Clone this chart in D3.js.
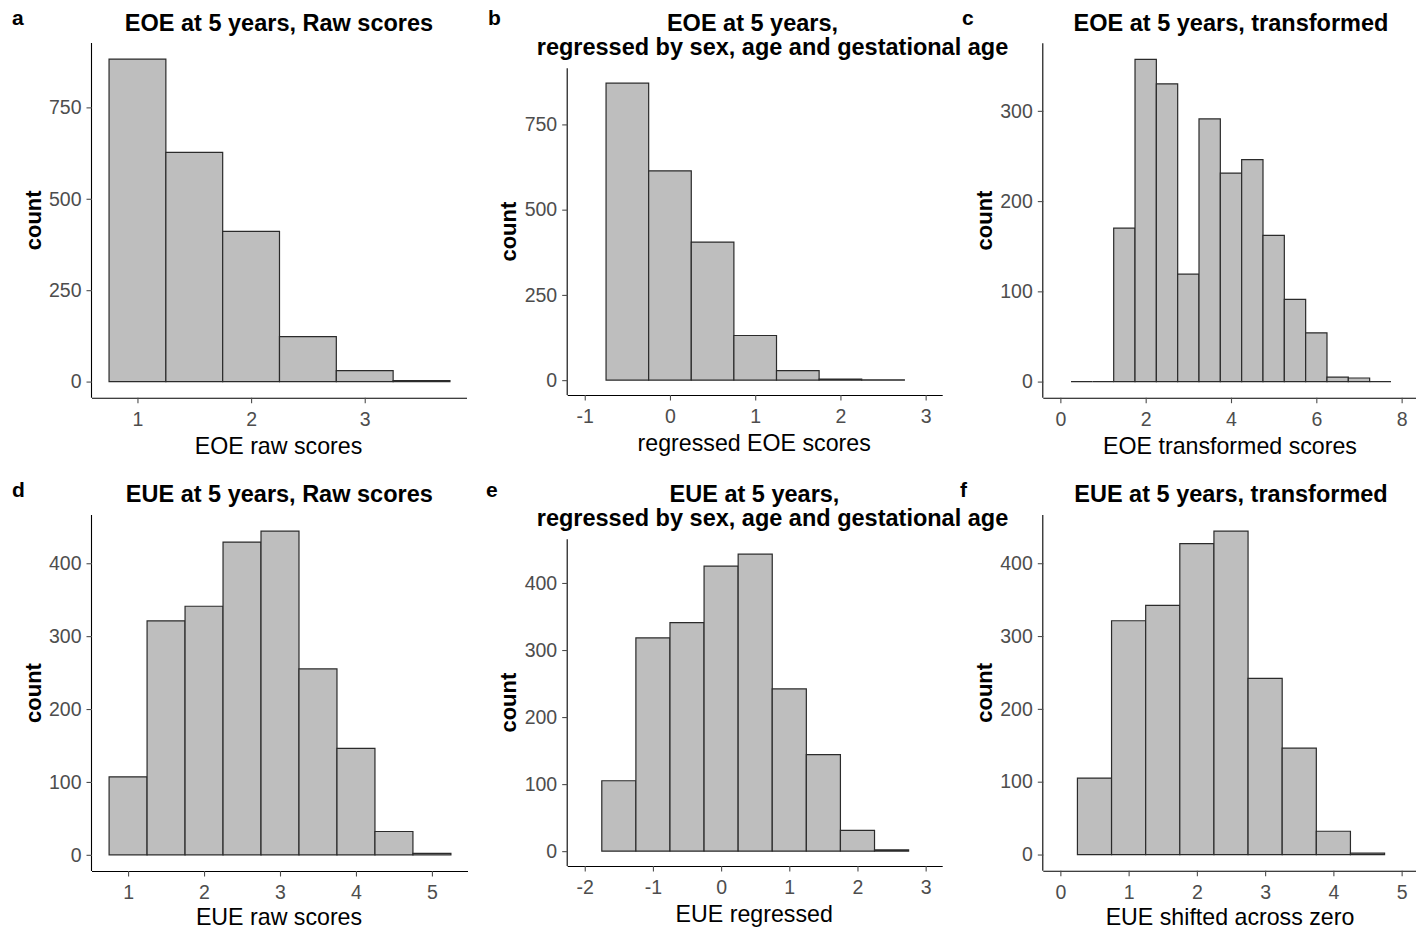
<!DOCTYPE html>
<html>
<head>
<meta charset="utf-8">
<script src="https://cdn.jsdelivr.net/npm/d3@7"></script>
<style>
  html, body { margin: 0; padding: 0; background: #fff; }
  svg { display: block; }
</style>
</head>
<body>
<script>
// ---------------- DATA ----------------
const binWidth = 0.5;

const eoeRawStart = 0.75;
const eoeRawCounts = [882, 627, 411, 123, 30, 3];

const eoeRegStart = -0.75;
const eoeRegCounts = [871, 614, 405, 131, 28, 3, 1];

const eoeTransStart = 0.25;
const eoeTransCounts = [0, 0, 170, 357, 330, 119, 291, 231, 246, 162, 91, 54, 5, 4, 0];

const eueRawStart = 0.75;
const eueRawCounts = [107, 321, 341, 429, 444, 255, 146, 32, 2];

const eueRegStart = -1.75;
const eueRegCounts = [105, 318, 341, 425, 443, 242, 144, 31, 2];

const eueShiftStart = 0.25;
const eueShiftCounts = [105, 321, 342, 427, 444, 242, 146, 32, 2];

const xTicksA = [1, 2, 3];
const xTicksB = [-1, 0, 1, 2, 3];
const xTicksC = [0, 2, 4, 6, 8];
const xTicksD = [1, 2, 3, 4, 5];
const xTicksE = [-2, -1, 0, 1, 2, 3];
const xTicksF = [0, 1, 2, 3, 4, 5];
const yTicksEOE = [0, 250, 500, 750];
const yTicksC = [0, 100, 200, 300];
const yTicksEUE = [0, 100, 200, 300, 400];

const tags = ["a", "b", "c", "d", "e", "f"];
const titles = [
  ["EOE at 5 years, Raw scores"],
  ["EOE at 5 years,", "regressed by sex, age and gestational age"],
  ["EOE at 5 years, transformed"],
  ["EUE at 5 years, Raw scores"],
  ["EUE at 5 years,", "regressed by sex, age and gestational age"],
  ["EUE at 5 years, transformed"]
];
const xTitles = ["EOE raw scores", "regressed EOE scores", "EOE transformed scores",
                 "EUE raw scores", "EUE regressed", "EUE shifted across zero"];

// ---------------- LAYOUT ----------------
const W = 1416, H = 931;
const panels = [
  { start: eoeRawStart,   counts: eoeRawCounts,   xDom: [0.6, 3.9],    xTicks: xTicksA, yTicks: yTicksEOE,
    box: { l: 92, r: 467, t: 43, b: 397.7 },  tag: [12, 25], titleX: [279], titleY: 30.5, xtY: 453.5 },
  { start: eoeRegStart,   counts: eoeRegCounts,   xDom: [-1.2, 3.2],   xTicks: xTicksB, yTicks: yTicksEOE,
    box: { l: 567.7, r: 942.7, t: 68.3, b: 395 }, tag: [488, 25], titleX: [752.5, 772.5], titleY: 30.5, xtY: 450.5 },
  { start: eoeTransStart, counts: eoeTransCounts, xDom: [-0.4, 8.4],   xTicks: xTicksC, yTicks: yTicksC,
    box: { l: 1043.3, r: 1418.7, t: 43.3, b: 397.7 }, tag: [962, 25], titleX: [1231], titleY: 30.5, xtY: 453.5 },
  { start: eueRawStart,   counts: eueRawCounts,   xDom: [0.525, 5.475], xTicks: xTicksD, yTicks: yTicksEUE,
    box: { l: 92, r: 468, t: 515, b: 871 }, tag: [12, 497], titleX: [279.3], titleY: 502, xtY: 925 },
  { start: eueRegStart,   counts: eueRegCounts,   xDom: [-2.25, 3.25], xTicks: xTicksE, yTicks: yTicksEUE,
    box: { l: 567.7, r: 942.7, t: 539.3, b: 866 }, tag: [486, 497], titleX: [754.5, 772.5], titleY: 502, xtY: 922 },
  { start: eueShiftStart, counts: eueShiftCounts, xDom: [-0.25, 5.25], xTicks: xTicksF, yTicks: yTicksEUE,
    box: { l: 1043.3, r: 1418.7, t: 515, b: 870.7 }, tag: [960, 497], titleX: [1231], titleY: 502, xtY: 925 }
];

const FONT = "'Liberation Sans', Arial, sans-serif";
const svg = d3.select("body").append("svg")
  .attr("width", W).attr("height", H)
  .style("font-family", FONT);

const fmt = d => String(d);

panels.forEach((p, i) => {
  const bx = p.box;
  const maxC = d3.max(p.counts);
  const x = d3.scaleLinear().domain(p.xDom).range([bx.l, bx.r]);
  const y = d3.scaleLinear().domain([-0.05 * maxC, 1.05 * maxC]).range([bx.b, bx.t]);
  const g = svg.append("g");

  // bars
  const bins = p.counts.map((c, k) => ({ x0: p.start + k * binWidth, x1: p.start + (k + 1) * binWidth, c }));
  g.selectAll("path.bar").data(bins).enter().append("path")
    .attr("class", "bar")
    .attr("d", d => {
      const x0 = x(d.x0), x1 = x(d.x1), y0 = y(0), y1 = y(d.c);
      return `M${x0},${y0}V${y1}H${x1}V${y0}Z`;
    })
    .attr("fill", "#BEBEBE")
    .attr("stroke", "#2b2b2b")
    .attr("stroke-width", 1.2);

  // x axis
  const xAxis = d3.axisBottom(x).tickValues(p.xTicks).tickSize(5.5).tickPadding(9).tickFormat(fmt);
  const gx = g.append("g").attr("transform", `translate(0,${bx.b})`).call(xAxis);
  gx.selectAll(".tick line").attr("stroke", "#4d4d4d").attr("stroke-width", 1.1);
  gx.selectAll(".tick text").attr("fill", "#4d4d4d").style("font-size", "19.5px").style("font-family", FONT);

  // y axis
  const yAxis = d3.axisLeft(y).tickValues(p.yTicks).tickSize(5.5).tickPadding(5).tickFormat(fmt);
  const gy = g.append("g").attr("transform", `translate(${bx.l},0)`).call(yAxis);
  gy.selectAll(".tick line").attr("stroke", "#4d4d4d").attr("stroke-width", 1.1);
  gy.selectAll(".tick text").attr("fill", "#4d4d4d").style("font-size", "19.5px").style("font-family", FONT);

  // plain axis lines (ggplot classic style)
  gx.select(".domain").attr("d", `M${bx.l},0.5H${Math.min(bx.r, W)}`).attr("stroke", "#000").attr("stroke-width", 1.1);
  gy.select(".domain").attr("d", `M-0.5,${bx.t}V${bx.b}`).attr("stroke", "#000").attr("stroke-width", 1.1);

  // x title
  g.append("text")
    .attr("x", (bx.l + Math.min(bx.r, 1418.7)) / 2 - 1)
    .attr("y", p.xtY)
    .attr("text-anchor", "middle")
    .style("font-size", "23.2px")
    .attr("fill", "#000")
    .text(xTitles[i]);

  // y title
  const yc = (bx.t + bx.b) / 2;
  const yx = bx.l - 51.5;
  g.append("text")
    .attr("transform", `translate(${yx},${yc}) rotate(-90)`)
    .attr("text-anchor", "middle")
    .style("font-size", "22px")
    .style("font-weight", "bold")
    .attr("fill", "#000")
    .text("count");

  // title
  titles[i].forEach((line, k) => {
    g.append("text")
      .attr("x", p.titleX[k])
      .attr("y", p.titleY + k * 24)
      .attr("text-anchor", "middle")
      .style("font-size", "23.5px")
      .style("font-weight", "bold")
      .attr("fill", "#000")
      .text(line);
  });

  // tag
  g.append("text")
    .attr("x", p.tag[0])
    .attr("y", p.tag[1])
    .style("font-size", "21px")
    .style("font-weight", "bold")
    .attr("fill", "#000")
    .text(tags[i]);
});
</script>
</body>
</html>
